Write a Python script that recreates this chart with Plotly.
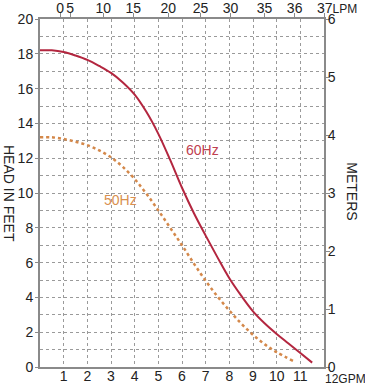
import plotly.graph_objects as go

# Data (GPM vs head in feet)
gpm_60 = [0, 0.5, 1, 1.5, 2, 2.5, 3, 3.5, 4, 4.5, 5, 5.5, 6, 6.5, 7, 7.5, 8, 8.5, 9, 9.5, 10, 10.5, 11, 11.5]
ft_60 = [18.2, 18.2, 18.1, 17.9, 17.65, 17.3, 16.9, 16.35, 15.65, 14.65, 13.4, 11.9, 10.3, 8.85, 7.55, 6.3,
         5.1, 4.1, 3.2, 2.5, 1.9, 1.35, 0.8, 0.25]

gpm_50 = [0, 0.5, 1, 1.5, 2, 2.5, 3, 3.5, 4, 4.5, 5, 5.5, 6, 6.5, 7, 7.5, 8, 8.5, 9, 9.5, 10, 10.7]
ft_50 = [13.2, 13.2, 13.1, 12.95, 12.75, 12.45, 12.05, 11.5, 10.8, 9.95, 9.0, 8.0, 7.0, 5.95, 4.95, 4.05,
         3.25, 2.5, 1.85, 1.3, 0.85, 0.35]

gpm_ticks = [1, 2, 3, 4, 5, 6, 7, 8, 9, 10, 11]
feet_ticks = [0, 2, 4, 6, 8, 10, 12, 14, 16, 18, 20]
meter_ticks = [0, 1, 2, 3, 4, 5, 6]
lpm_labels = ["0", "5", "10", "15", "20", "25", "30", "35", "36", ""]
lpm_pos = [0.85, 1.27, 2.67, 3.94, 5.42, 6.78, 8.05, 9.49, 10.76, 12.0]

RED = "#b3263f"
ORANGE = "#d4884a"
AXIS = "#8a8a8a"
GRID = "#9a9a9a"
FONT = "Liberation Sans, Arial, sans-serif"

fig = go.Figure()
fig.add_trace(go.Scatter(x=gpm_60, y=ft_60, mode="lines", line=dict(color=RED, width=2, shape="spline"),
                         showlegend=False, hoverinfo="skip"))
fig.add_trace(go.Scatter(x=gpm_50, y=ft_50, mode="lines",
                         line=dict(color=ORANGE, width=2.5, dash="dot", shape="spline"),
                         showlegend=False, hoverinfo="skip"))
# dummy trace to activate secondary axes
fig.add_trace(go.Scatter(x=[None], y=[None], xaxis="x2", yaxis="y2", showlegend=False, hoverinfo="skip"))

fig.update_layout(
    width=365, height=385,
    margin=dict(l=40, r=41, t=19, b=18),
    paper_bgcolor="white", plot_bgcolor="white",
    font=dict(family=FONT, size=14, color="#222"),
    xaxis=dict(range=[0, 12], tickvals=gpm_ticks, ticktext=[str(v) for v in gpm_ticks],
               showline=True, linecolor=AXIS, linewidth=2, ticks="", automargin=False, tickangle=0,
               ticklabelstandoff=-5,
               showgrid=True, gridcolor=GRID, griddash="dot", gridwidth=1,
               zeroline=False, fixedrange=True),
    yaxis=dict(range=[0, 20], tickvals=feet_ticks, showline=True, linecolor=AXIS, linewidth=2,
               ticks="outside", ticklen=3, tickcolor=AXIS, automargin=False, ticklabelstandoff=-1,
               showgrid=True, gridcolor=GRID, griddash="dot", gridwidth=1, zeroline=False,
               minor=dict(dtick=1, showgrid=True, gridcolor=GRID, griddash="dot", gridwidth=1, ticks=""),
               fixedrange=True),
    xaxis2=dict(range=[0, 12], overlaying="x", side="top", anchor="y", tickvals=lpm_pos, ticktext=lpm_labels,
                showline=True, linecolor=AXIS, linewidth=2, ticks="outside", ticklen=4, tickcolor=AXIS,
                tickangle=0, automargin=False, ticklabelstandoff=-6,
                showgrid=False, zeroline=False, fixedrange=True),
    yaxis2=dict(range=[0, 6], overlaying="y", side="right", anchor="x", tickvals=meter_ticks,
                showline=True, linecolor=AXIS, linewidth=2, ticks="outside", ticklen=4, tickcolor=AXIS,
                automargin=False, ticklabelstandoff=-5, showgrid=False, zeroline=False, fixedrange=True),
)

fig.add_annotation(text="HEAD IN FEET", x=0, xref="paper", xanchor="center", yanchor="middle", xshift=-31,
                   y=0.5, yref="paper", textangle=90, showarrow=False, font=dict(size=14, color="#222"))
fig.add_annotation(text="METERS", x=1, xref="paper", xanchor="center", yanchor="middle", xshift=28,
                   y=0.505, yref="paper", textangle=90, showarrow=False, font=dict(size=14, color="#222"))
fig.add_annotation(text="60Hz", x=6.85, y=12.5, xref="x", yref="y", showarrow=False,
                   font=dict(size=14, color="#c0404f"))
fig.add_annotation(text="50Hz", x=3.4, y=9.6, xref="x", yref="y", showarrow=False,
                   font=dict(size=14, color="#d9904f"))
fig.add_annotation(text="12GPM", x=12, xref="x", xanchor="left", xshift=-1, y=0, yref="paper",
                   yanchor="top", yshift=-3, showarrow=False, font=dict(size=12, color="#222"))
fig.add_annotation(text="37<span style='font-size:12px'>LPM</span>", x=12, xref="x", xanchor="left",
                   xshift=-9, y=1, yref="paper", yanchor="bottom", yshift=1, showarrow=False,
                   font=dict(size=14, color="#222"))

fig.write_html("out.html", config={"displayModeBar": False},
               post_script="document.body.style.margin='0px';document.body.style.overflow='hidden';")
